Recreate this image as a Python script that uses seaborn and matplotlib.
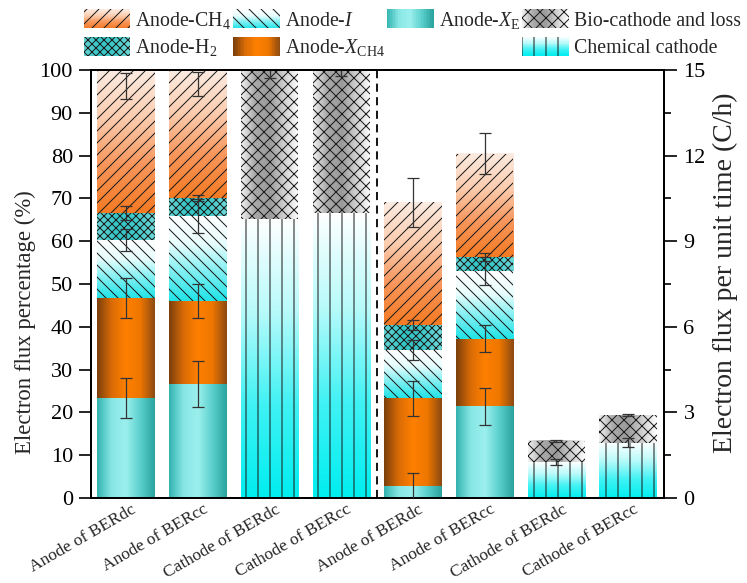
"""
Electron flux distribution in the BER anodes and cathodes.

Left half: share of the electron flux (%), right half: electron flux per unit time (C/h).
Saves out.png
"""

import matplotlib

matplotlib.use("Agg")
import matplotlib.pyplot as plt
import matplotlib.transforms as mtransforms
import numpy as np
import seaborn as sns
from matplotlib.colors import LinearSegmentedColormap
from matplotlib.legend_handler import HandlerBase
from matplotlib.patches import Rectangle
from matplotlib.ticker import MultipleLocator

# figure is rendered at 72 dpi so the hatch cells come out ~12 px like the original
DPI = 72
PX = 100 / DPI  # sizes below are tuned in "points at 100 dpi"


def pt(v):
    return v * PX


sns.set_style("ticks")
plt.rcParams["font.family"] = ["Liberation Serif", "DejaVu Serif"]
plt.rcParams["mathtext.fontset"] = "custom"
plt.rcParams["mathtext.rm"] = "Liberation Serif"
plt.rcParams["mathtext.it"] = "Liberation Serif:italic"
plt.rcParams["hatch.linewidth"] = 1.0

# ---- data -----------------------------------------------------------------
LABELS = ["Anode of BERdc", "Anode of BERcc", "Cathode of BERdc", "Cathode of BERcc"] * 2
BAR_IDS = [f"bar{i}" for i in range(8)]
LEFT = [0, 1, 2, 3]    # plotted on the % axis
RIGHT = [4, 5, 6, 7]   # plotted on the C/h axis

# segment heights, stacked bottom -> top (bars 0-3 in %, bars 4-7 in C/h)
XE = [23.4, 26.6, 0, 0, 0.42, 3.22, 0, 0]
XCH4 = [23.3, 19.4, 0, 0, 3.07, 2.36, 0, 0]
I_FLUX = [13.6, 19.9, 0, 0, 1.70, 2.38, 0, 0]
H2 = [6.3, 4.2, 0, 0, 0.87, 0.49, 0, 0]
CH4 = [33.4, 29.9, 0, 0, 4.31, 3.61, 0, 0]
CHEM = [0, 0, 65.2, 66.6, 0, 0, 1.26, 1.93]
BIO = [0, 0, 34.8, 33.4, 0, 0, 0.74, 0.98]

# standard deviations
XE_SD = [4.7, 5.3, 0, 0, 0.46, 0.65, 0, 0]
XCH4_SD = [4.7, 4.0, 0, 0, 0.62, 0.48, 0, 0]
I_SD = [2.65, 4.0, 0, 0, 0.35, 0.50, 0, 0]
H2_SD = [1.6, 0.8, 0, 0, 0.17, 0.15, 0, 0]
CH4_SD = [3.0, 2.8, 0, 0, 0.86, 0.72, 0, 0]
CHEM_SD = [0, 0, 0, 0, 0, 0, 0.12, 0.16]
BIO_SD = [0, 0, 1.9, 1.4, 0, 0, 0.05, 0.05]

# the CH4 error bars of the % anode bars sit below the 100 % top
CH4_ERR_MID_PCT = [96.3, 96.7]

# ---- styles -----------------------------------------------------------------
HATCH_COLOR = "#1a1a1a"
STYLE = {
    "ch4": dict(label=r"Anode-CH$_4$", colors=["#f47a22", "#f7955a", "#fbcdb0", "#fcece2"], direction="v", hatch="//"),
    "h2": dict(label=r"Anode-H$_2$", colors=["#66d3d3", "#33c6c7", "#3fcaca", "#70d8d8"], direction="h", hatch="xxx"),
    "i": dict(label=r"Anode-$I$", colors=["#1fe4e8", "#7eeff1", "#e8fdfd", "#ffffff"], direction="v", hatch="\\\\"),
    "xch4": dict(label=r"Anode-$X_{\mathrm{CH4}}$", colors=["#7a3f0c", "#d96b06", "#ff8000", "#ee7600", "#8a4a12"], direction="h", hatch=None),
    "xe": dict(label=r"Anode-$X_{\mathrm{E}}$", colors=["#33b3af", "#86e6e4", "#9cf0ee", "#5acfcc", "#2aa29e"], direction="h", hatch=None),
    "bio": dict(label="Bio-cathode and loss", colors=["#f2f2f2", "#a8a8a8", "#9a9a9a", "#d0d0d0", "#ffffff"], direction="h", hatch="xx"),
    "chem": dict(label="Chemical cathode", colors=["#00eef0", "#40f2f4", "#b8fafa", "#ffffff"], direction="v", hatch="|"),
}

STACK = [
    ("xe", XE, XE_SD),
    ("xch4", XCH4, XCH4_SD),
    ("i", I_FLUX, I_SD),
    ("h2", H2, H2_SD),
    ("ch4", CH4, CH4_SD),
    ("chem", CHEM, CHEM_SD),
    ("bio", BIO, BIO_SD),
]


def make_cmap(colors):
    return LinearSegmentedColormap.from_list("grad", colors)


class GradientHandler(HandlerBase):
    """Legend key drawn as a striped gradient with an optional hatch on top."""

    def __init__(self, colors, direction, hatch):
        super().__init__()
        self.cmap = make_cmap(colors)
        self.direction = direction
        self.hatch = hatch

    def create_artists(self, legend, orig_handle, xdescent, ydescent, width, height, fontsize, trans):
        x0, y0 = -xdescent, -ydescent
        n = 30
        artists = []
        for k in range(n):
            c = self.cmap((k + 0.5) / n)
            if self.direction == "v":
                r = Rectangle((x0, y0 + k * height / n), width, height / n * 1.05, fc=c, lw=0)
            else:
                r = Rectangle((x0 + k * width / n, y0), width / n * 1.05, height, fc=c, lw=0)
            r.set_transform(trans)
            artists.append(r)
        if self.hatch:
            h = Rectangle((x0, y0), width, height, fc="none", ec=HATCH_COLOR, lw=0, hatch=self.hatch)
            h.set_transform(trans)
            artists.append(h)
        return artists


def draw_layer(ax, idx, heights, bottoms, style):
    """One stacked layer through seaborn, then a gradient image under each bar."""
    idx = [i for i in idx if heights[i] > 0]
    if not idx:
        return
    before = len(ax.patches)
    sns.barplot(
        x=[BAR_IDS[i] for i in idx],
        y=[heights[i] for i in idx],
        order=BAR_IDS,
        bottom=[bottoms[i] for i in idx],
        width=0.8,
        errorbar=None,
        color="white",
        facecolor="none",
        edgecolor=HATCH_COLOR,
        linewidth=0,
        hatch=style["hatch"],
        zorder=2,
        ax=ax,
    )
    cmap = make_cmap(style["colors"])
    grad = np.linspace(0, 1, 256)
    grad = grad.reshape(-1, 1) if style["direction"] == "v" else grad.reshape(1, -1)
    for p in ax.patches[before:]:
        x, y, w, h = p.get_x(), p.get_y(), p.get_width(), p.get_height()
        ax.imshow(grad, cmap=cmap, extent=(x, x + w, y, y + h), origin="lower",
                  aspect="auto", interpolation="bicubic", zorder=1)


def main():
    fig = plt.figure(figsize=(747 / DPI, 583 / DPI), dpi=DPI)
    ax = fig.add_axes([0.1218, 0.1458, 0.7671, 0.7341])
    ax2 = ax.twinx()

    bottoms = np.zeros(8)
    err_kw = dict(fmt="none", ecolor="#333333", elinewidth=pt(0.9), capsize=pt(4),
                  capthick=pt(0.9), zorder=5)
    for key, heights, sd in STACK:
        heights = np.asarray(heights, float)
        sd = np.asarray(sd, float)
        for axis, idx in ((ax, LEFT), (ax2, RIGHT)):
            draw_layer(axis, idx, heights, bottoms, STYLE[key])
            mids = bottoms + heights
            if key == "ch4":
                mids[0:2] = CH4_ERR_MID_PCT
            sel = [i for i in idx if sd[i] > 0]
            if sel:
                axis.errorbar(sel, mids[sel], yerr=sd[sel], **err_kw)
        bottoms = bottoms + heights

    ax.axvline(3.5, color="black", ls=(0, (4.5, 3)), lw=pt(1.3), zorder=3)

    ax.set_xlim(-0.49, 7.5)
    ax.set_ylim(0, 100)
    ax2.set_ylim(0, 15)

    ax.yaxis.set_major_locator(MultipleLocator(10))
    ax2.yaxis.set_major_locator(MultipleLocator(3))
    ax2.yaxis.set_minor_locator(MultipleLocator(1.5))
    ax.tick_params(axis="y", length=pt(9), width=pt(1.2), pad=pt(4), labelsize=pt(16),
                   color="black", labelcolor="black")
    ax2.tick_params(axis="y", which="major", length=pt(9), width=pt(1.2), pad=pt(5),
                    labelsize=pt(16), color="black", labelcolor="black")
    ax2.tick_params(axis="y", which="minor", length=pt(5), width=pt(1.2), color="black")
    ax.tick_params(axis="x", length=0, pad=pt(2))

    ax.set_xticks(range(8))
    ax.set_xticklabels(LABELS, rotation=30, ha="right", va="top", rotation_mode="anchor",
                       fontsize=pt(12.5))
    shift = mtransforms.ScaledTranslation(5 / DPI, -1 / DPI, fig.dpi_scale_trans)
    for lbl in ax.get_xticklabels():
        lbl.set_transform(lbl.get_transform() + shift)
    ax.set_xlabel("")

    ax.set_ylabel("Electron flux percentage (%)", fontsize=pt(16.4))
    ax.yaxis.set_label_coords(-0.096, 0.41)
    ax2.set_ylabel("Electron flux per unit time (C/h)", fontsize=pt(20))
    ax2.yaxis.set_label_coords(1.0855, 0.526)

    for axis in (ax, ax2):
        for spine in axis.spines.values():
            spine.set_color("black")
            spine.set_linewidth(pt(1.4))

    # legend (column-major, with an empty slot under Anode-X_E)
    order = ["ch4", "h2", "i", "xch4", "xe", None, "bio", "chem"]
    handles, labels, handler_map = [], [], {}
    for key in order:
        proxy = Rectangle((0, 0), 1, 1, fc="none", ec="none")
        handles.append(proxy)
        if key is None:
            labels.append("")
            continue
        st = STYLE[key]
        labels.append(st["label"])
        handler_map[proxy] = GradientHandler(st["colors"], st["direction"], st["hatch"])
    fig.legend(
        handles, labels, handler_map=handler_map,
        loc="upper left", bbox_to_anchor=(0.112, 0.984), ncol=4, frameon=False,
        fontsize=pt(14.3), handlelength=2.35, handleheight=1.1, handletextpad=0.25,
        columnspacing=0.1, labelspacing=0.3, borderaxespad=0, borderpad=0,
    )

    fig.savefig("out.png", dpi=DPI)
    plt.close(fig)


if __name__ == "__main__":
    main()
